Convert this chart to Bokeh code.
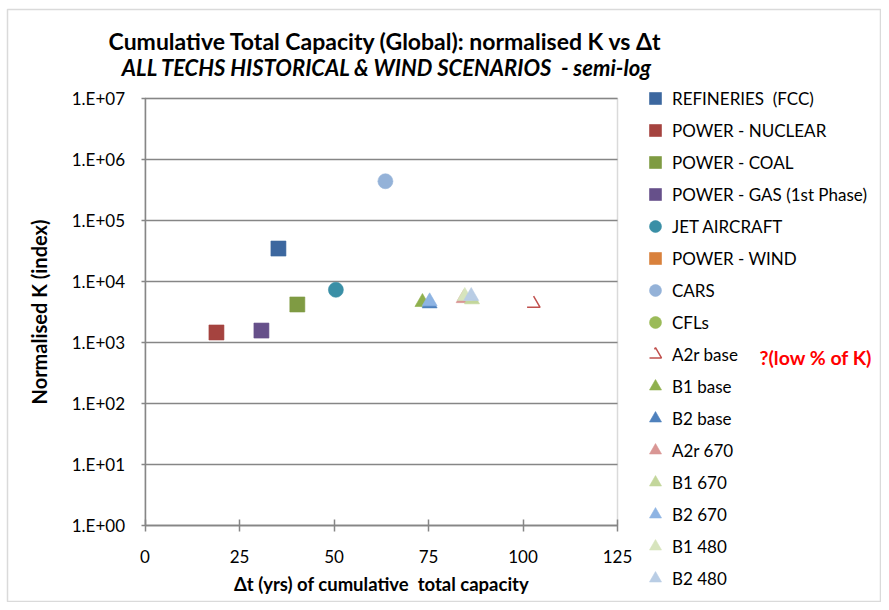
from bokeh.plotting import figure
from bokeh.models import (Legend, LegendItem, Label, FixedTicker,
                          ColumnDataSource, BoxAnnotation)
from bokeh.embed import file_html
from bokeh.resources import INLINE

NAN = float("nan")

# ---------------- data ----------------
series_names = ["REFINERIES\u00a0 (FCC)", "POWER - NUCLEAR", "POWER - COAL",
                "POWER - GAS (1st Phase)", "JET AIRCRAFT", "POWER - WIND",
                "CARS", "CFLs", "A2r base", "B1 base", "B2 base",
                "A2r 670", "B1 670", "B2 670", "B1 480", "B2 480"]
series_dt = [[35.3], [18.9], [40.3], [30.8], [50.5], [NAN], [63.6], [NAN],
             [102.8], [73.4], [75.3], [84.3], [86.5], [75.3], [84.6], [86.3]]
series_k = [[34700], [1460], [4200], [1570], [7310], [NAN], [440000], [NAN],
            [4350], [4580], [4350], [5300], [5070], [4700], [5750], [5750]]
series_marker = ["square", "square", "square", "square", "circle", "square",
                 "circle", "circle", "triangle", "triangle", "triangle",
                 "triangle", "triangle", "triangle", "triangle", "triangle"]
series_color = ["#3C679F", "#A5433F", "#7F9B43", "#66508A", "#3A8FA6",
                "#D9813C", "#94B2D8", "#9BBB59", "#C0504D", "#8FB04E",
                "#4F81BD", "#D99694", "#C3D69B", "#8EB4E3", "#D7E4BD",
                "#B9CDE5"]

x_ticks = [0, 25, 50, 75, 100, 125]
y_ticks = [1, 10, 100, 1000, 10000, 100000, 1000000, 10000000]
y_tick_labels = ["1.E+00", "1.E+01", "1.E+02", "1.E+03", "1.E+04",
                 "1.E+05", "1.E+06", "1.E+07"]

title1 = "Cumulative Total Capacity (Global): normalised K vs \u0394t"
title2 = "ALL TECHS HISTORICAL & WIND SCENARIOS\u00a0 - semi-log"
x_title = "\u0394t (yrs) of cumulative\u00a0 total capacity"
y_title = "Normalised K (index)"
note = "?(low % of K)"

FONT = "Lato"
GRID = "#868686"
W, H = 881, 602
# pixel geometry of the plot area inside the figure
PX_L, PX_R, PX_T, PX_B = 144.5, 617, 98, 525
xs_per_px = (x_ticks[-1] - x_ticks[0]) / (PX_R - PX_L)
dec_per_px = 7 / (PX_B - PX_T)
x_start = x_ticks[0] - PX_L * xs_per_px
x_end = x_ticks[-1] + (W - PX_R) * xs_per_px
y_start = 10 ** (-(H - PX_B) * dec_per_px)
y_end = 10 ** (7 + PX_T * dec_per_px)


def xd(px):
    return x_ticks[0] + (px - PX_L) * xs_per_px


def yd(py):
    return 10 ** ((PX_B - py) * dec_per_px)


p = figure(width=W, height=H, output_backend="svg", toolbar_location=None,
           y_axis_type="log", x_range=(x_start, x_end),
           y_range=(y_start, y_end),
           min_border_left=0, min_border_right=0, min_border_top=0,
           min_border_bottom=0)
p.background_fill_color = "white"
p.border_fill_color = "white"
p.outline_line_color = None
p.xgrid.visible = False
p.ygrid.visible = False

# outer chart border
p.add_layout(BoxAnnotation(left=xd(7), right=xd(880), top=yd(9),
                           bottom=yd(601), fill_alpha=0, line_color=GRID,
                           line_width=1.5, level="underlay"))
# horizontal grid lines at the y ticks, limited to the x-axis extent
p.segment(x0=x_ticks[0], x1=x_ticks[-1], y0=y_ticks, y1=y_ticks,
          line_color=GRID, line_width=1.5)
p.add_layout(BoxAnnotation(left=x_ticks[0], right=x_ticks[-1],
                           bottom=y_ticks[0], top=y_ticks[-1],
                           fill_alpha=0, line_color=GRID, line_width=1.5,
                           level="underlay"))

p.xaxis.fixed_location = y_ticks[0]
p.yaxis.fixed_location = x_ticks[0]
p.xaxis.bounds = (x_ticks[0], x_ticks[-1])
p.yaxis.bounds = (y_ticks[0], y_ticks[-1])
p.xaxis.ticker = FixedTicker(ticks=x_ticks)
p.yaxis.ticker = FixedTicker(ticks=y_ticks)
p.yaxis.major_label_overrides = {float(v): s for v, s in zip(y_ticks, y_tick_labels)}
for ax in (p.xaxis, p.yaxis):
    ax.axis_line_color = GRID
    ax.axis_line_width = 1.5
    ax.major_tick_line_color = GRID
    ax.major_tick_line_width = 1.5
    ax.minor_tick_line_color = None
    ax.major_label_text_font = FONT
    ax.major_label_text_font_size = "17px"
    ax.major_label_text_color = "black"
    ax.axis_label_text_font = FONT
    ax.axis_label_text_font_style = "bold"
    ax.axis_label_text_color = "black"
p.xaxis.major_tick_in = 6
p.xaxis.major_tick_out = 6
p.xaxis.major_label_standoff = 18
p.xaxis.axis_label = x_title
p.xaxis.axis_label_text_font_size = "18.5px"
p.xaxis.axis_label_standoff = 7
p.yaxis.major_tick_in = 0
p.yaxis.major_tick_out = 4
p.yaxis.major_label_standoff = 16
p.yaxis.axis_label = y_title
p.yaxis.axis_label_text_font_size = "20px"
p.yaxis.axis_label_standoff = 18

items = []
for name, xs, ks, mk, col in zip(series_names, series_dt, series_k,
                                 series_marker, series_color):
    src = ColumnDataSource(dict(x=xs, y=ks))
    if name == "A2r base":
        # open marker drawn as only the base and right side of a triangle
        r = p.scatter("x", "y", source=src, marker=mk, size=13,
                      fill_alpha=0, line_color=col, line_width=1.5,
                      line_dash="26 14")
    else:
        r = p.scatter("x", "y", source=src, marker=mk, size=15,
                      fill_color=col, line_color=col, line_alpha=0.6)
    items.append(LegendItem(label=name, renderers=[r]))

legend = Legend(items=items, location=(640, H - 594), padding=0, margin=0,
                spacing=0, glyph_height=32, glyph_width=30, label_height=32,
                label_standoff=2, label_text_font=FONT,
                label_text_font_size="17px", label_text_color="black",
                border_line_color=None, background_fill_alpha=0)
p.add_layout(legend, "center")

p.add_layout(Label(x=xd(385), y=yd(40), text=title1, text_align="center",
                   text_baseline="middle", text_font=FONT,
                   text_font_size="23px", text_font_style="bold",
                   text_color="black"))
p.add_layout(Label(x=xd(387), y=yd(67), text=title2, text_align="center",
                   text_baseline="middle", text_font=FONT,
                   text_font_size="22px", text_font_style="bold italic",
                   text_color="black"))
p.add_layout(Label(x=xd(759), y=yd(357), text=note, text_align="left",
                   text_baseline="middle", text_font=FONT,
                   text_font_size="19.5px", text_font_style="bold",
                   text_color="#FF0000"))

open("out.html", "w").write(file_html(p, INLINE))
